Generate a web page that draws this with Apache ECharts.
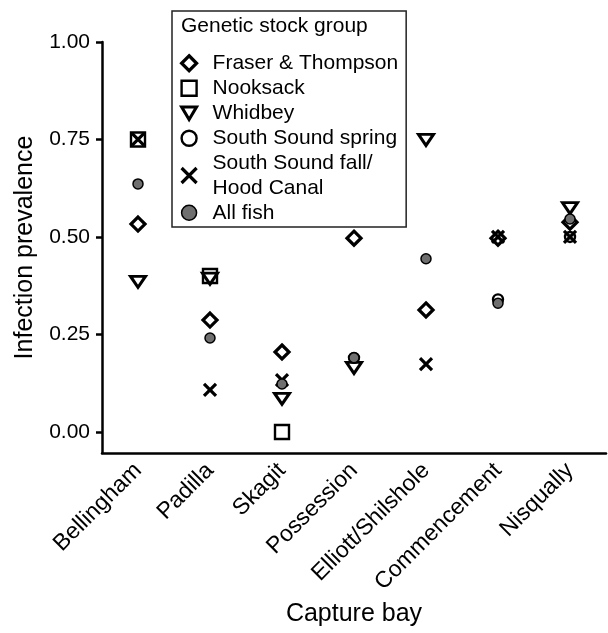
<!DOCTYPE html>
<html>
<head>
<meta charset="utf-8">
<script src="https://cdn.jsdelivr.net/npm/echarts@6/dist/echarts.min.js"></script>
<style>
  html, body { margin: 0; padding: 0; background: #fff; }
  #chart { width: 608px; height: 633px; }
</style>
</head>
<body>
<div id="chart"></div>
<script>
// Capture bays along the x axis
const bays = ['Bellingham', 'Padilla', 'Skagit', 'Possession', 'Elliott/Shilshole', 'Commencement', 'Nisqually'];

// Infection prevalence per genetic stock group (null = group not sampled in that bay)
const fraserThompson = [0.533, 0.287, 0.205, 0.497, 0.313, 0.497, 0.538];
const nooksack       = [0.75, 0.40, 0.0, null, null, null, null];
const whidbey        = [0.385, 0.393, 0.085, 0.164, 0.749, null, 0.574];
const southSpring    = [null, null, null, 0.19, null, 0.34, 0.5];
const southFallHood  = [0.75, 0.108, 0.133, null, 0.174, 0.5, 0.5];
const allFish        = [0.636, 0.241, 0.123, 0.19, 0.444, 0.33, 0.546];

// y-axis tick positions
const yTicks = [0, 0.25, 0.5, 0.75, 1.0];

const INK = '#000';
const FONT = 'Liberation Sans, Arial, Helvetica, sans-serif';

const X_PATH = 'path://M0,0L10,10M10,0L0,10';
const TRI_DOWN = 'path://M0,0L20,0L10,17Z';

function scatter(name, data, symbol, size, style) {
  style.opacity = 1;
  return {
    name: name,
    type: 'scatter',
    data: data,
    symbol: symbol,
    symbolSize: size,
    symbolKeepAspect: true,
    itemStyle: style,
    emphasis: { disabled: true },
    z: 3
  };
}

const series = [
  scatter('Fraser & Thompson', fraserThompson, 'diamond', 14,
          { color: '#fff', borderColor: INK, borderWidth: 3.2 }),
  scatter('Nooksack', nooksack, 'rect', 14,
          { color: '#fff', borderColor: INK, borderWidth: 2.4 }),
  scatter('Whidbey', whidbey, TRI_DOWN, [15, 13],
          { color: '#fff', borderColor: INK, borderWidth: 3 }),
  scatter('South Sound spring', southSpring, 'circle', 10,
          { color: '#fff', borderColor: INK, borderWidth: 2.4 }),
  scatter('South Sound fall/\nHood Canal', southFallHood, X_PATH, 12,
          { color: 'transparent', borderColor: INK, borderWidth: 3.2 }),
  scatter('All fish', allFish, 'circle', 10,
          { color: '#6f6f6f', borderColor: INK, borderWidth: 1.5 })
];

const chart = echarts.init(document.getElementById('chart'), null, { renderer: 'canvas' });

chart.setOption({
  animation: false,
  backgroundColor: '#fff',
  textStyle: { fontFamily: FONT, color: INK },
  grid: { left: 102, right: 2, top: 42, bottom: 180, containLabel: false },
  xAxis: {
    type: 'category',
    data: bays,
    boundaryGap: true,
    name: 'Capture bay',
    nameLocation: 'middle',
    nameGap: 146,
    nameTextStyle: { fontSize: 25, color: INK, fontFamily: FONT },
    axisLine: { onZero: false, lineStyle: { color: INK, width: 2.5 } },
    axisTick: { alignWithLabel: true, length: 8, lineStyle: { color: INK, width: 2.5 } },
    axisLabel: { rotate: 45, margin: 14, fontSize: 23, color: INK, fontFamily: FONT, interval: 0 },
    splitLine: { show: false }
  },
  yAxis: {
    type: 'value',
    min: -0.054,
    max: 1.0,
    name: 'Infection prevalence',
    nameLocation: 'middle',
    nameGap: 64,
    nameTextStyle: { fontSize: 25, color: INK, fontFamily: FONT },
    axisLine: { show: true, lineStyle: { color: INK, width: 2.5 } },
    axisTick: { show: true, length: 6, customValues: yTicks, lineStyle: { color: INK, width: 2.5 } },
    axisLabel: {
      customValues: yTicks,
      margin: 12,
      fontSize: 21,
      color: INK,
      fontFamily: FONT,
      formatter: function (v) { return v.toFixed(2); }
    },
    splitLine: { show: false }
  },
  legend: {
    orient: 'vertical',
    left: 172,
    top: 11,
    padding: [40, 8, 2, 8],
    borderColor: '#222',
    borderWidth: 1.5,
    itemWidth: 15,
    itemHeight: 15,
    itemGap: 0.5,
    symbolKeepAspect: true,
    selectedMode: false,
    textStyle: { fontSize: 21, lineHeight: 24.5, color: INK, fontFamily: FONT, padding: [0, 0, 0, 11] },
    data: series.map(function (s) {
      return { name: s.name, itemStyle: { borderWidth: s.itemStyle.borderWidth, opacity: 1 } };
    })
  },
  graphic: [{
    type: 'text',
    left: 181,
    top: 16,
    style: { text: 'Genetic stock group', fontSize: 21, fontFamily: FONT, fill: INK }
  }],
  series: series
});
</script>
</body>
</html>
